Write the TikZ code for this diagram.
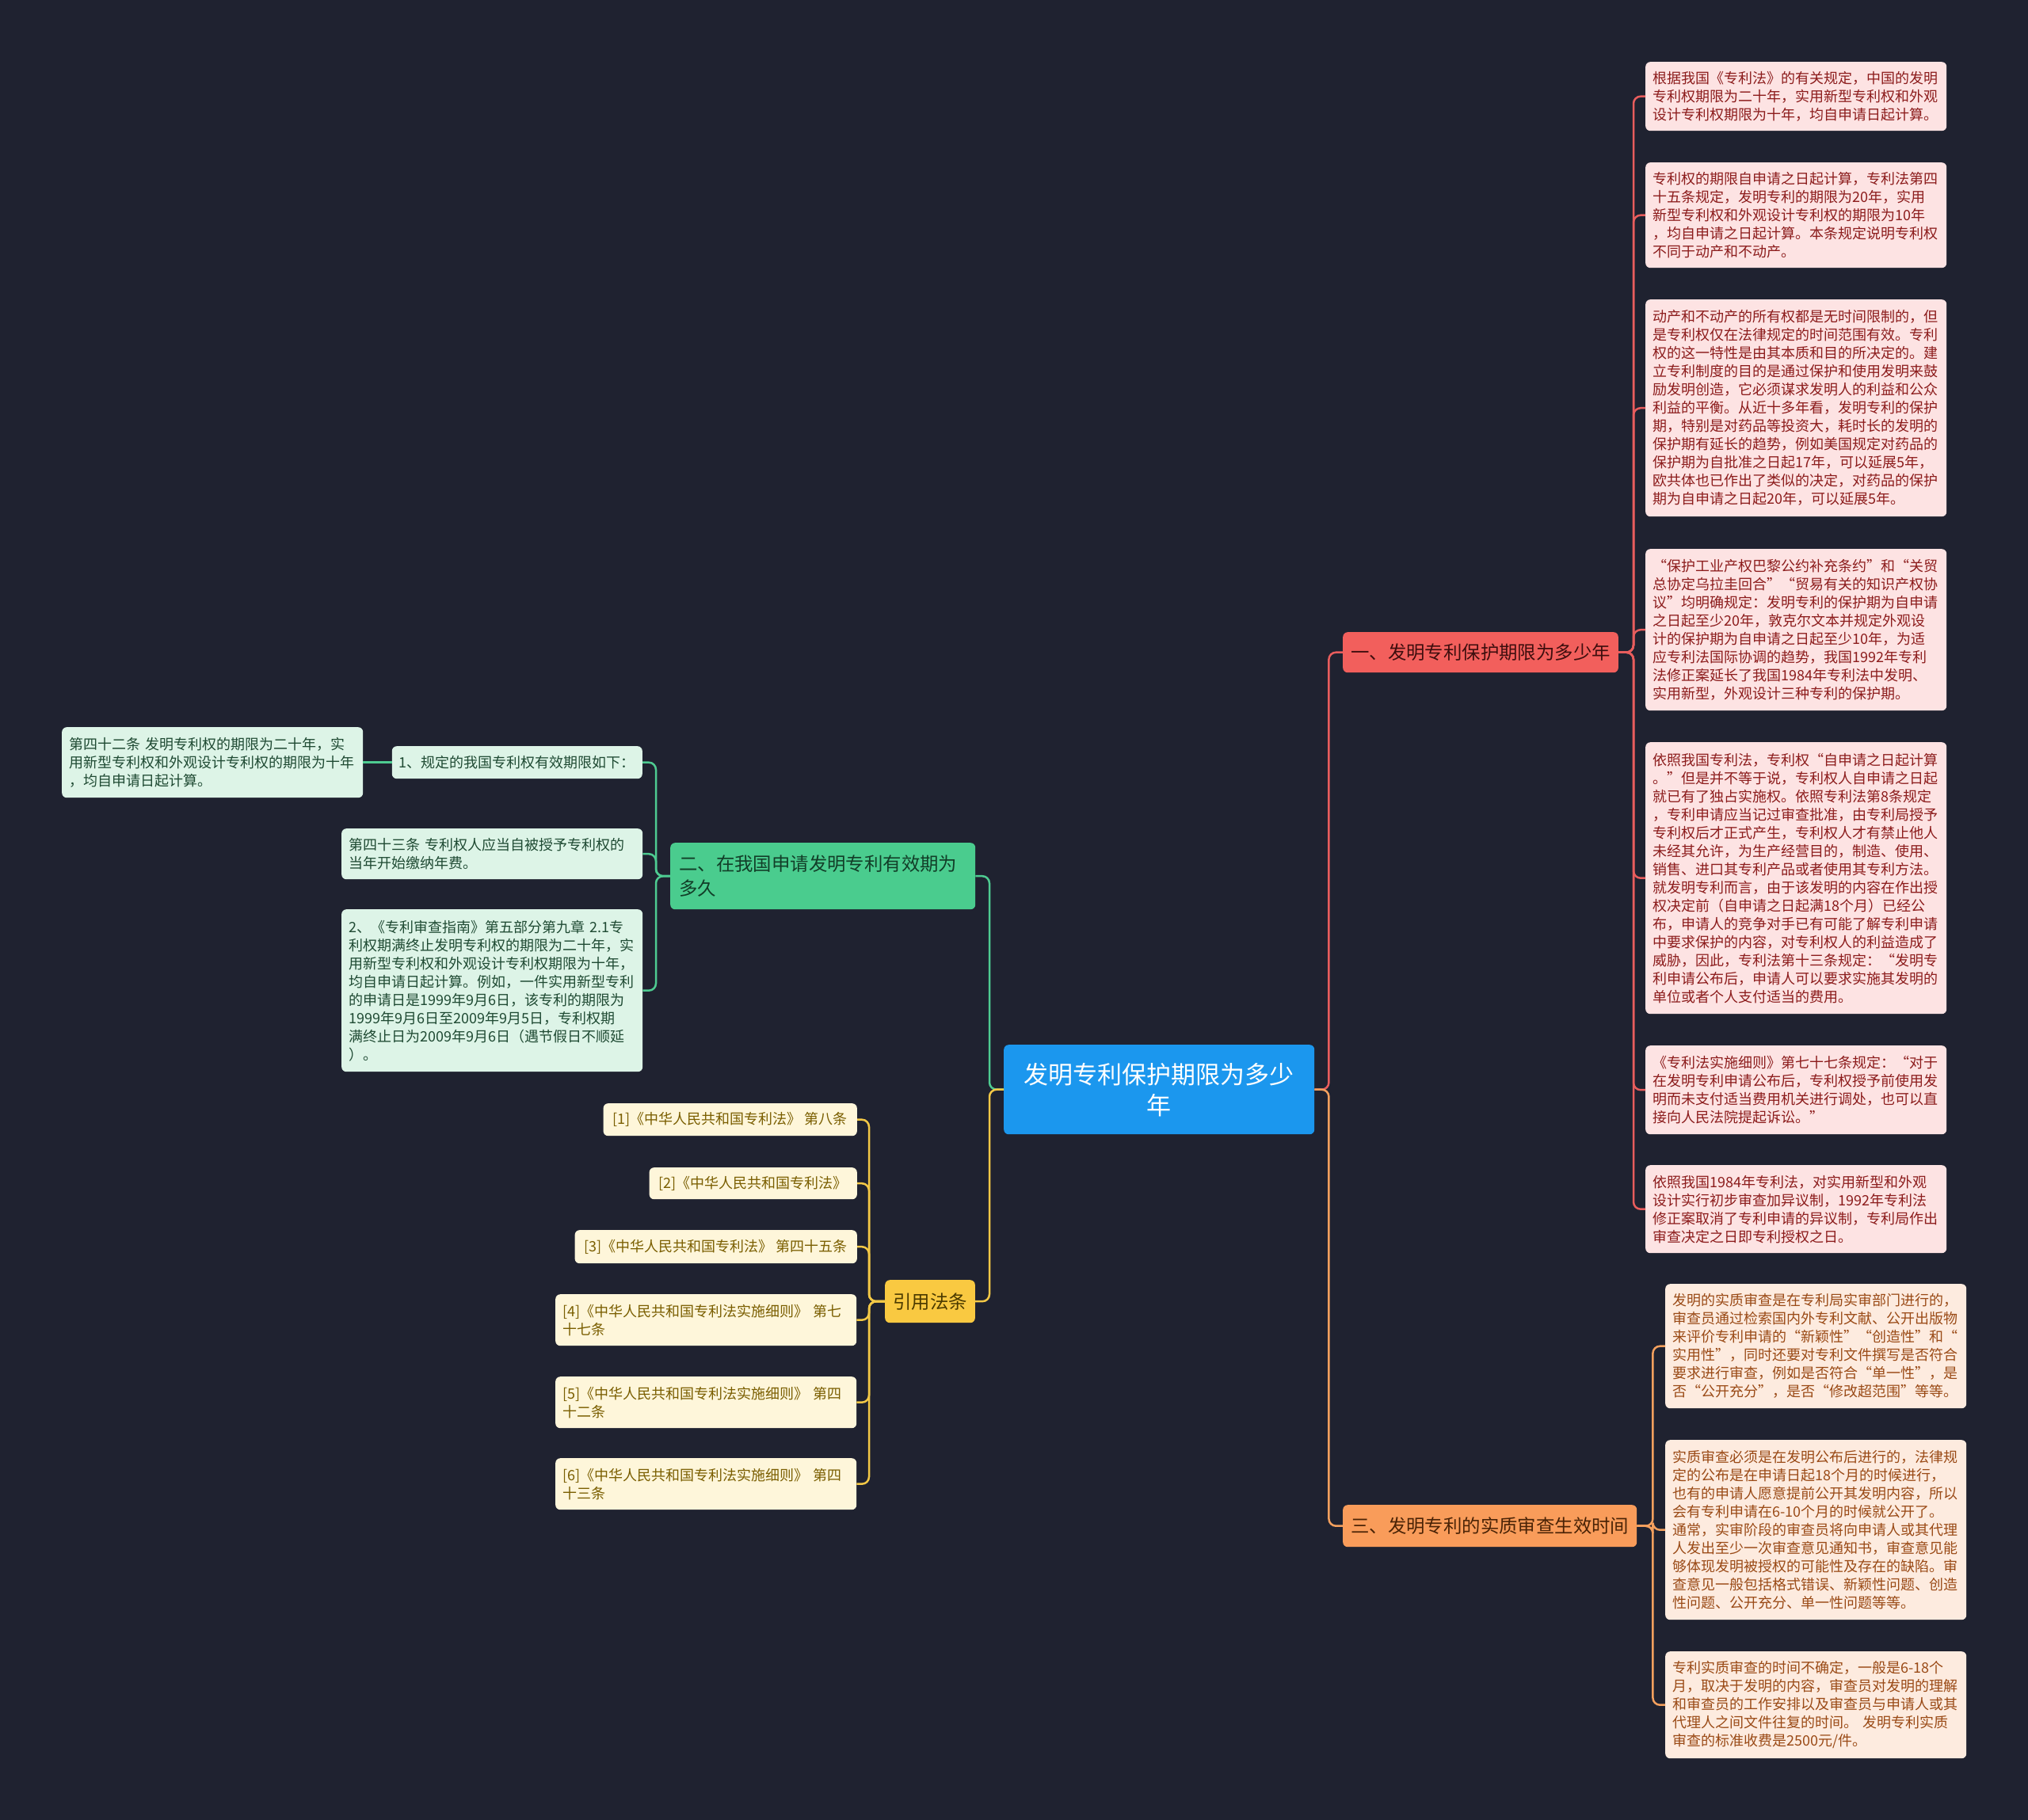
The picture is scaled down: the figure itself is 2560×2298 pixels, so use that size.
\documentclass[tikz,border=0pt]{standalone}
\usepackage{fontspec}
\newfontfamily\cjk{Noto Sans CJK SC}
\definecolor{bgnavy}{HTML}{1F2230}
\definecolor{rootblue}{HTML}{1B97EE}
\definecolor{redfill}{HTML}{F25F5C}
\definecolor{redtext}{HTML}{3E0E0E}
\definecolor{redleaf}{HTML}{FDE3E3}
\definecolor{redleaftext}{HTML}{8C1C1C}
\definecolor{redwire}{HTML}{E85D5D}
\definecolor{orfill}{HTML}{F99C5A}
\definecolor{ortext}{HTML}{4A2306}
\definecolor{orleaf}{HTML}{FDEBDF}
\definecolor{orleaftext}{HTML}{9A4A16}
\definecolor{orwire}{HTML}{F4A05E}
\definecolor{grfill}{HTML}{4ACC8E}
\definecolor{grtext}{HTML}{123E28}
\definecolor{grleaf}{HTML}{DDF4E7}
\definecolor{grleaftext}{HTML}{1F4A33}
\definecolor{grwire}{HTML}{4ECB91}
\definecolor{yefill}{HTML}{F9C941}
\definecolor{yetext}{HTML}{4B3A00}
\definecolor{yeleaf}{HTML}{FEF6DA}
\definecolor{yeleaftext}{HTML}{7A5E00}
\definecolor{yewire}{HTML}{F3C846}
\begin{document}
\begin{tikzpicture}[x=1pt, y=-1pt,
  box/.style={rounded corners=6pt, inner ysep=0pt, inner xsep=9pt, anchor=north west, align=left},
  leaf/.style={box, text width=362pt, font=\cjk\fontsize{18}{23}\selectfont},
  redbox/.style={leaf, fill=redleaf, text=redleaftext},
  orbox/.style={leaf, fill=orleaf, text=orleaftext},
  grbox/.style={leaf, fill=grleaf, text=grleaftext},
  yebox/.style={leaf, fill=yeleaf, text=yeleaftext},
  yeshort/.style={box, fill=yeleaf, text=yeleaftext, anchor=north east, inner xsep=12pt,
    font=\cjk\fontsize{18}{23}\selectfont},
  branch/.style={box, inner xsep=10pt, font=\cjk\fontsize{23.4}{31}\selectfont},
  wire/.style={line width=2.5pt, rounded corners=9pt},
  redline/.style={wire, draw=redwire},
  orline/.style={wire, draw=orwire},
  grline/.style={wire, draw=grwire},
  yeline/.style={wire, draw=yewire}]
\fill[bgnavy] (0,0) rectangle (2560,2298);
\useasboundingbox (0,0) rectangle (2560,2298);

% centre and main branches
\node[box, fill=rootblue, text=white, text width=350pt, inner xsep=21pt, align=center,
  minimum height=113pt, font=\cjk\fontsize{31}{39}\selectfont] (root) at (1267,1319)
  {发明专利保护期限为多少\\年};
\node[branch, fill=redfill, text=redtext, minimum height=51pt] (b1) at (1695,798)
  {一、发明专利保护期限为多少年};
\node[branch, fill=grfill, text=grtext, text width=363pt, inner xsep=11pt, minimum height=84pt] (b2) at (846,1064)
  {二、在我国申请发明专利有效期为\\多久};
\node[branch, fill=orfill, text=ortext, minimum height=53pt] (b3) at (1695,1900)
  {三、发明专利的实质审查生效时间};
\node[branch, fill=yefill, text=yetext, anchor=north east, minimum height=54pt] (b4) at (1231,1616)
  {引用法条};

% red leaves
\node[redbox, minimum height=87pt] (r1) at (2077,78)
  {根据我国《专利法》的有关规定，中国的发明\\专利权期限为二十年，实用新型专利权和外观\\设计专利权期限为十年，均自申请日起计算。};
\node[redbox, minimum height=133pt] (r2) at (2077,205)
  {专利权的期限自申请之日起计算，专利法第四\\十五条规定，发明专利的期限为20年，实用\\新型专利权和外观设计专利权的期限为10年\\，均自申请之日起计算。本条规定说明专利权\\不同于动产和不动产。};
\node[redbox, minimum height=274pt] (r3) at (2077,378)
  {动产和不动产的所有权都是无时间限制的，但\\是专利权仅在法律规定的时间范围有效。专利\\权的这一特性是由其本质和目的所决定的。建\\立专利制度的目的是通过保护和使用发明来鼓\\励发明创造，它必须谋求发明人的利益和公众\\利益的平衡。从近十多年看，发明专利的保护\\期，特别是对药品等投资大，耗时长的发明的\\保护期有延长的趋势，例如美国规定对药品的\\保护期为自批准之日起17年，可以延展5年，\\欧共体也已作出了类似的决定，对药品的保护\\期为自申请之日起20年，可以延展5年。};
\node[redbox, minimum height=204pt] (r4) at (2077,693)
  {“保护工业产权巴黎公约补充条约”和“关贸\\总协定乌拉圭回合”“贸易有关的知识产权协\\议”均明确规定：发明专利的保护期为自申请\\之日起至少20年，敦克尔文本并规定外观设\\计的保护期为自申请之日起至少10年，为适\\应专利法国际协调的趋势，我国1992年专利\\法修正案延长了我国1984年专利法中发明、\\实用新型，外观设计三种专利的保护期。};
\node[redbox, minimum height=343pt] (r5) at (2077,937)
  {依照我国专利法，专利权“自申请之日起计算\\。”但是并不等于说，专利权人自申请之日起\\就已有了独占实施权。依照专利法第8条规定\\，专利申请应当记过审查批准，由专利局授予\\专利权后才正式产生，专利权人才有禁止他人\\未经其允许，为生产经营目的，制造、使用、\\销售、进口其专利产品或者使用其专利方法。\\就发明专利而言，由于该发明的内容在作出授\\权决定前（自申请之日起满18个月）已经公\\布，申请人的竞争对手已有可能了解专利申请\\中要求保护的内容，对专利权人的利益造成了\\威胁，因此，专利法第十三条规定：“发明专\\利申请公布后，申请人可以要求实施其发明的\\单位或者个人支付适当的费用。};
\node[redbox, minimum height=112pt] (r6) at (2077,1320)
  {《专利法实施细则》第七十七条规定：“对于\\在发明专利申请公布后，专利权授予前使用发\\明而未支付适当费用机关进行调处，也可以直\\接向人民法院提起诉讼。”};
\node[redbox, minimum height=111pt] (r7) at (2077,1471)
  {依照我国1984年专利法，对实用新型和外观\\设计实行初步审查加异议制，1992年专利法\\修正案取消了专利申请的异议制，专利局作出\\审查决定之日即专利授权之日。};

% orange leaves
\node[orbox, minimum height=157pt] (o1) at (2102,1621)
  {发明的实质审查是在专利局实审部门进行的，\\审查员通过检索国内外专利文献、公开出版物\\来评价专利申请的“新颖性”“创造性”和“\\实用性”，同时还要对专利文件撰写是否符合\\要求进行审查，例如是否符合“单一性”，是\\否“公开充分”，是否“修改超范围”等等。};
\node[orbox, minimum height=227pt] (o2) at (2102,1818)
  {实质审查必须是在发明公布后进行的，法律规\\定的公布是在申请日起18个月的时候进行，\\也有的申请人愿意提前公开其发明内容，所以\\会有专利申请在6-10个月的时候就公开了。\\通常，实审阶段的审查员将向申请人或其代理\\人发出至少一次审查意见通知书，审查意见能\\够体现发明被授权的可能性及存在的缺陷。审\\查意见一般包括格式错误、新颖性问题、创造\\性问题、公开充分、单一性问题等等。};
\node[orbox, minimum height=135pt] (o3) at (2102,2085)
  {专利实质审查的时间不确定，一般是6-18个\\月，取决于发明的内容，审查员对发明的理解\\和审查员的工作安排以及审查员与申请人或其\\代理人之间文件往复的时间。 发明专利实质\\审查的标准收费是2500元/件。};

% green leaves
\node[grbox, minimum height=89pt] (g1) at (78,918)
  {第四十二条 发明专利权的期限为二十年，实\\用新型专利权和外观设计专利权的期限为十年\\，均自申请日起计算。};
\node[box, fill=grleaf, text=grleaftext, anchor=north east, minimum height=41pt,
  font=\cjk\fontsize{18}{23}\selectfont] (g1h) at (811,942)
  {1、规定的我国专利权有效期限如下：};
\node[grbox, minimum height=64pt] (g2) at (431,1046)
  {第四十三条 专利权人应当自被授予专利权的\\当年开始缴纳年费。};
\node[grbox, minimum height=205pt] (g3) at (431,1148)
  {2、《专利审查指南》第五部分第九章 2.1专\\利权期满终止发明专利权的期限为二十年，实\\用新型专利权和外观设计专利权期限为十年，\\均自申请日起计算。例如，一件实用新型专利\\的申请日是1999年9月6日，该专利的期限为\\1999年9月6日至2009年9月5日，专利权期\\满终止日为2009年9月6日（遇节假日不顺延\\）。};

% cited laws
\node[yeshort, minimum height=41pt] (y1) at (1082,1393)
  {[1]《中华人民共和国专利法》 第八条};
\node[yeshort, minimum height=40pt] (y2) at (1082,1474)
  {[2]《中华人民共和国专利法》};
\node[yeshort, minimum height=42pt] (y3) at (1082,1553)
  {[3]《中华人民共和国专利法》 第四十五条};
\node[yebox, minimum height=65pt] (y4) at (701,1634)
  {[4]《中华人民共和国专利法实施细则》 第七\\十七条};
\node[yebox, minimum height=65pt] (y5) at (701,1738)
  {[5]《中华人民共和国专利法实施细则》 第四\\十二条};
\node[yebox, minimum height=65pt] (y6) at (701,1841)
  {[6]《中华人民共和国专利法实施细则》 第四\\十三条};

% connectors
\draw[redline] (root.east) -- ++(18,0) |- (b1.west);
\draw[orline] (root.east) -- ++(18,0) |- (b3.west);
\draw[grline] (root.west) -- ++(-18,0) |- (b2.east);
\draw[yeline] (root.west) -- ++(-18,0) |- (b4.east);

\draw[redline] (b1.east) -- ++(19,0) |- (r1.west);
\draw[redline] (b1.east) -- ++(19,0) |- (r2.west);
\draw[redline] (b1.east) -- ++(19,0) |- (r3.west);
\draw[redline] (b1.east) -- ++(19,0) |- (r4.west);
\draw[redline] (b1.east) -- ++(19,0) |- (r5.west);
\draw[redline] (b1.east) -- ++(19,0) |- (r6.west);
\draw[redline] (b1.east) -- ++(19,0) |- (r7.west);

\draw[orline] (b3.east) -- ++(20,0) |- (o1.west);
\draw[orline] (b3.east) -- ++(20,0) |- (o2.west);
\draw[orline] (b3.east) -- ++(20,0) |- (o3.west);

\draw[grline] (b2.west) -- ++(-18,0) |- (g1h.east);
\draw[grline] (b2.west) -- ++(-18,0) |- (g2.east);
\draw[grline] (b2.west) -- ++(-18,0) |- (g3.east);
\draw[grline] (g1h.west) -- (g1.east);

\draw[yeline] (b4.west) -- ++(-20,0) |- (y1.east);
\draw[yeline] (b4.west) -- ++(-20,0) |- (y2.east);
\draw[yeline] (b4.west) -- ++(-20,0) |- (y3.east);
\draw[yeline] (b4.west) -- ++(-20,0) |- (y4.east);
\draw[yeline] (b4.west) -- ++(-20,0) |- (y5.east);
\draw[yeline] (b4.west) -- ++(-20,0) |- (y6.east);
\end{tikzpicture}
\end{document}
